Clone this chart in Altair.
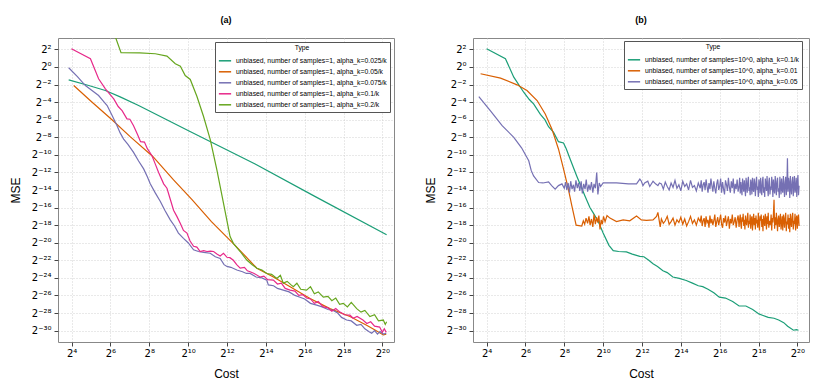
import altair as alt
import pandas as pd

# ---------------- data (log2 of Cost, log2 of MSE) ----------------
A_NAMES = [
    "unbiased, number of samples=1, alpha_k=0.025/k",
    "unbiased, number of samples=1, alpha_k=0.05/k",
    "unbiased, number of samples=1, alpha_k=0.075/k",
    "unbiased, number of samples=1, alpha_k=0.1/k",
    "unbiased, number of samples=1, alpha_k=0.2/k",
]
B_NAMES = [
    "unbiased, number of samples=10^0, alpha_k=0.1/k",
    "unbiased, number of samples=10^0, alpha_k=0.01",
    "unbiased, number of samples=10^0, alpha_k=0.05",
]
A_COLORS = ["#1B9E77", "#D95F02", "#7570B3", "#E7298A", "#66A61E"]
B_COLORS = ["#1B9E77", "#D95F02", "#7570B3"]

a_teal_x = [3.85, 4.88, 5.74, 6.5, 7.45, 10.02, 13.45, 16.5, 20.22]
a_teal_y = [-1.46, -2.11, -2.68, -3.4, -4.39, -7.25, -11.05, -14.7, -19.1]

a_orange_x = [4.11, 5.0, 6.08, 7.0, 8.18, 9.25, 10.2, 11.2, 12.25, 12.85, 13.54, 14.39,
              15.25, 16.28, 17.3, 18.33, 19.19, 19.6, 20.05, 20.2]
a_orange_y = [-2.11, -3.9, -6.0, -7.9, -10.18, -12.85, -15.1, -17.6, -19.94, -21.3, -22.9, -23.9,
              -25.0, -26.35, -27.5, -28.4, -29.4, -29.9, -30.5, -30.4]

a_purple_x = [3.85, 4.3, 4.71, 5.0, 5.39, 5.6, 5.83, 6.08, 6.34, 6.5, 6.68, 6.9, 7.19, 7.45, 7.71,
              7.9, 8.05, 8.3, 8.57, 8.8, 9.08, 9.3, 9.5, 9.76, 10.0, 10.28, 10.53, 10.8, 11.14, 11.4,
              11.65, 11.85, 12.0, 12.2, 12.51, 12.8, 13.0, 13.19, 13.5, 13.8, 14.05, 14.13, 14.4,
              14.6, 14.9, 15.2, 15.5, 15.76, 16.0, 16.3, 16.62, 16.9, 17.2, 17.47, 17.7, 17.9, 18.16,
              18.4, 18.68, 18.9, 19.1, 19.3, 19.45, 19.6, 19.75, 19.88, 20.05, 20.2]
a_purple_y = [-0.09, -1.1, -2.11, -2.6, -3.25, -3.8, -4.39, -5.5, -6.68, -7.5, -8.2, -8.8, -9.72,
              -10.7, -11.6, -12.5, -13.3, -14.3, -15.3, -16.3, -17.4, -18.1, -18.9, -19.5, -20.0,
              -20.8, -21.0, -21.1, -21.2, -21.6, -21.8, -22.5, -22.7, -22.8, -23.1, -23.3, -23.5,
              -23.5, -23.9, -24.0, -24.26, -24.8, -24.9, -25.2, -25.4, -25.6, -26.0, -26.2, -26.4,
              -26.9, -27.1, -27.3, -27.6, -27.7, -28.0, -28.5, -28.8, -28.9, -29.4, -29.3, -29.8,
              -30.1, -30.3, -30.0, -30.4, -30.1, -30.4, -30.3]

a_pink_x = [3.99, 4.97, 5.39, 5.74, 6.17, 6.4, 6.6, 6.85, 7.0, 7.19, 7.4, 7.55, 7.75, 7.9, 8.14,
            8.3, 8.48, 8.74, 8.91, 9.1, 9.25, 9.42, 9.6, 9.76, 9.94, 10.1, 10.28, 10.45, 10.62,
            10.8, 10.97, 11.15, 11.31, 11.5, 11.65, 11.82, 12.0, 12.15, 12.33, 12.5, 12.68, 12.9,
            13.05, 13.19, 13.4, 13.7, 13.9, 14.1, 14.39, 14.6, 14.8, 15.0, 15.25, 15.5, 15.7, 15.9,
            16.1, 16.3, 16.5, 16.7, 16.96, 17.2, 17.4, 17.6, 17.82, 18.05, 18.33, 18.5, 18.7, 19.0,
            19.2, 19.4, 19.6, 19.86, 20.0, 20.1, 20.2]
a_pink_y = [2.08, 0.94, -1.34, -2.49, -3.63, -4.5, -4.96, -5.9, -5.95, -6.68, -7.7, -8.5, -8.55,
            -9.3, -10.1, -11.0, -12.0, -13.3, -13.8, -15.2, -16.3, -17.0, -17.8, -18.6, -18.9,
            -19.8, -20.4, -20.5, -21.0, -20.9, -21.0, -20.95, -21.0, -21.3, -21.5, -21.2, -21.66,
            -21.7, -22.0, -22.5, -22.9, -22.8, -23.2, -23.3, -23.5, -23.9, -23.8, -24.2, -24.26,
            -24.7, -24.6, -25.2, -25.4, -25.5, -26.0, -25.9, -26.3, -26.4, -26.9, -26.7, -27.3,
            -27.4, -27.8, -27.5, -27.9, -28.2, -28.25, -28.6, -28.4, -28.8, -29.2, -29.0, -29.5,
            -29.6, -30.2, -29.8, -30.2]

a_green_x = [6.0, 6.545, 7.5, 8.31, 8.91, 9.34, 9.6, 9.85, 10.11, 10.45, 10.79, 11.14, 11.48,
             11.82, 12.16, 12.33, 12.68, 13.02, 13.3, 13.54, 13.8, 14.05, 14.3, 14.57, 14.75, 14.9,
             15.1, 15.3, 15.42, 15.6, 15.8, 16.1, 16.3, 16.5, 16.7, 16.96, 17.2, 17.4, 17.6, 17.8,
             17.99, 18.2, 18.4, 18.68, 18.9, 19.1, 19.36, 19.6, 19.8, 20.05, 20.15, 20.22]
a_green_y = [5.0, 1.62, 1.6, 1.51, 1.24, 0.37, 0.09, -0.97, -1.42, -3.33, -5.61, -8.27, -11.7,
             -15.5, -19.3, -20.07, -21.0, -21.97, -22.5, -22.9, -23.1, -23.5, -23.6, -24.06, -23.7,
             -24.6, -24.4, -24.8, -25.0, -24.6, -25.3, -25.4, -25.0, -25.8, -25.6, -26.2, -26.1,
             -26.6, -26.3, -27.0, -26.9, -27.3, -26.8, -27.5, -27.9, -27.7, -28.4, -28.2, -28.9,
             -28.8, -29.3, -29.0]

b_teal_x = [4.0, 4.97, 5.4, 5.91, 6.2, 6.42, 6.77, 7.0, 7.19, 7.45, 7.7, 7.96, 8.1, 8.3, 8.64,
            9.07, 9.32, 9.49, 9.75, 10.0, 10.3, 10.52, 10.8, 11.2, 11.5, 11.89, 12.1, 12.35, 12.57,
            12.8, 13.08, 13.3, 13.59, 13.92, 14.28, 14.6, 14.9, 15.13, 15.4, 15.7, 15.98, 16.3,
            16.67, 17.0, 17.35, 17.7, 18.02, 18.2, 18.5, 18.8, 19.04, 19.3, 19.5, 19.8, 19.95, 20.06]
b_teal_y = [2.08, 0.94, -1.16, -2.87, -3.7, -4.2, -5.4, -6.0, -6.8, -7.44, -8.5, -8.65, -9.3,
            -10.48, -12.4, -14.7, -16.0, -16.6, -17.6, -18.9, -20.3, -20.9, -21.0, -21.05, -21.3,
            -21.55, -21.6, -22.0, -22.4, -22.7, -23.2, -23.4, -23.9, -24.06, -24.3, -24.6, -24.9,
            -25.0, -25.3, -25.7, -26.2, -26.3, -26.7, -27.2, -27.2, -27.6, -28.1, -28.25, -28.5,
            -28.6, -28.8, -29.1, -29.5, -29.96, -29.9, -29.96]

# dense tail cost exponents shared by the two noisy series of panel (b)
b_tail_x = [
    13.0, 13.1, 13.2, 13.3, 13.4, 13.5, 13.6, 13.7, 13.8, 13.9,
    14.0, 14.1, 14.2, 14.3, 14.4, 14.5, 14.6, 14.7, 14.8, 14.9,
    15.0, 15.05, 15.1, 15.15, 15.2, 15.25, 15.3, 15.35, 15.4, 15.45,
    15.5, 15.55, 15.6, 15.65, 15.7, 15.75, 15.8, 15.85, 15.9, 15.95,
    16.0, 16.05, 16.1, 16.15, 16.2, 16.25, 16.3, 16.35, 16.4, 16.45,
    16.5, 16.55, 16.6, 16.65, 16.7, 16.75, 16.8, 16.85, 16.9, 16.95,
    17.0, 17.03, 17.06, 17.09, 17.12, 17.15, 17.18, 17.21, 17.24, 17.27,
    17.3, 17.33, 17.36, 17.39, 17.42, 17.45, 17.48, 17.51, 17.54, 17.57,
    17.6, 17.63, 17.66, 17.69, 17.72, 17.75, 17.78, 17.81, 17.84, 17.87,
    17.9, 17.93, 17.96, 17.99, 18.02, 18.05, 18.08, 18.11, 18.14, 18.17,
    18.2, 18.23, 18.26, 18.29, 18.32, 18.35, 18.38, 18.41, 18.44, 18.47,
    18.5, 18.53, 18.56, 18.59, 18.62, 18.65, 18.68, 18.71, 18.74, 18.77,
    18.8, 18.83, 18.86, 18.89, 18.92, 18.95, 18.98, 19.01, 19.04, 19.07,
    19.1, 19.13, 19.16, 19.19, 19.22, 19.25, 19.28, 19.31, 19.34, 19.37,
    19.4, 19.43, 19.46, 19.49, 19.52, 19.55, 19.58, 19.61, 19.64, 19.67,
    19.7, 19.73, 19.76, 19.79, 19.82, 19.85, 19.88, 19.91, 19.94, 19.97,
    20.0, 20.03, 20.06, 20.09,
]

b_orange_head_x = [3.69, 4.72, 5.57, 6.08, 6.6, 7.02, 7.36, 7.7, 7.96, 8.21, 8.39, 8.61, 8.9,
                   8.98, 9.05, 9.12, 9.2, 9.27, 9.33, 9.4, 9.47, 9.53, 9.6, 9.66, 9.72, 9.78, 9.84,
                   9.9, 9.96, 10.02, 10.1, 10.2, 10.35, 10.69, 11.03, 11.37, 11.72, 11.97, 12.23,
                   12.57, 12.75, 12.82, 12.94]
b_orange_head_y = [-0.77, -1.27, -2.03, -2.68, -3.82, -5.34, -7.05, -9.33, -11.6, -13.9, -15.8,
                   -18.0, -18.1, -17.5, -17.9, -17.2, -17.8, -17.0, -18.0, -17.3, -18.2, -16.8,
                   -17.9, -17.1, -17.7, -16.9, -18.5, -17.4, -17.9, -17.0, -17.6, -16.9, -17.2,
                   -17.6, -17.4, -17.5, -16.95, -17.4, -17.45, -17.4, -17.0, -16.55, -18.2]
b_orange_tail_y = [
    -17.3, -17.8, -17.5, -17.0, -17.9, -17.6, -17.2, -18.0, -17.4, -17.7,
    -17.1, -17.9, -17.3, -18.1, -17.6, -17.0, -17.8, -17.4, -18.0, -17.2,
    -17.6, -16.9, -18.1, -17.5, -17.2, -18.2, -17.0, -17.7, -17.4, -18.3,
    -16.9, -17.8, -17.3, -18.0, -17.5, -16.8, -18.2, -17.6, -17.1, -18.0,
    -17.4, -16.8, -17.9, -18.3, -17.2, -17.7, -16.9, -18.1, -17.5, -17.0,
    -18.4, -17.3, -17.8, -16.8, -18.0, -17.6, -17.1, -18.3, -17.4, -16.9,
    -18.2, -17.3, -16.8, -17.9, -18.4, -17.1, -17.6, -16.7, -18.1, -17.4,
    -18.5, -16.9, -17.7, -18.0, -17.2, -16.6, -18.3, -17.5, -17.9, -16.8,
    -18.4, -17.3, -17.0, -18.6, -17.6, -16.7, -18.0, -17.2, -18.5, -16.9,
    -17.8, -17.4, -18.3, -16.6, -17.7, -18.6, -17.0, -17.5, -16.8, -18.2,
    -17.3, -18.7, -16.9, -17.6, -18.1, -16.7, -17.4, -18.5, -17.0, -17.9,
    -16.6, -18.3, -17.5, -18.0, -17.8, -16.8, -18.6, -17.2, -17.7, -16.7,
    -15.1, -18.4, -17.1, -18.0, -16.6, -17.6, -18.7, -17.3, -16.9, -18.2,
    -17.5, -16.7, -18.5, -17.8, -17.0, -18.6, -16.8, -17.4, -18.3, -17.1,
    -16.6, -18.7, -17.6, -17.9, -16.8, -18.4, -17.2, -18.8, -16.7, -17.7,
    -18.2, -17.0, -16.6, -18.5, -17.5, -17.9, -16.7, -18.6, -17.3, -16.9,
    -18.4, -17.2, -16.8, -18.1,
]

b_purple_head_x = [3.6, 4.2, 4.8, 5.4, 5.8, 6.17, 6.3, 6.42, 6.68, 6.9, 7.19, 7.35, 7.53, 7.7,
                   7.88, 8.0, 8.07, 8.13, 8.2, 8.27, 8.33, 8.4, 8.47, 8.53, 8.6, 8.67, 8.73, 8.8,
                   8.87, 8.93, 9.0, 9.07, 9.13, 9.2, 9.27, 9.33, 9.4, 9.47, 9.53, 9.6, 9.67, 9.73,
                   9.8, 9.87, 10.0, 10.35, 10.69, 11.0, 11.3, 11.6, 11.72, 11.89, 11.97, 12.05,
                   12.14, 12.3, 12.4, 12.57, 12.7, 12.82, 12.9]
b_purple_head_y = [-3.37, -5.0, -6.68, -8.0, -9.2, -10.67, -11.8, -12.4, -13.15, -13.2, -13.07,
                   -13.5, -13.9, -13.5, -13.3, -13.8, -13.1, -14.0, -13.2, -14.3, -13.0, -13.9,
                   -13.4, -14.2, -12.9, -13.8, -13.2, -14.1, -13.0, -14.4, -13.3, -13.9, -12.8,
                   -14.2, -13.4, -14.0, -13.1, -14.3, -13.3, -13.8, -12.0, -14.5, -13.2, -13.6,
                   -13.2, -13.2, -13.2, -13.25, -13.3, -13.3, -13.3, -12.76, -13.0, -13.5, -13.2,
                   -13.0, -13.6, -13.0, -13.3, -13.5, -13.2]
b_purple_tail_y = [
    -13.3, -13.9, -13.1, -13.6, -14.0, -13.2, -13.7, -12.9, -13.8, -13.4,
    -14.1, -13.0, -13.6, -13.3, -14.0, -12.9, -13.7, -13.5, -14.1, -13.2,
    -13.8, -12.9, -14.2, -13.4, -13.1, -14.0, -12.8, -13.6, -14.3, -13.2,
    -13.9, -12.7, -13.5, -14.2, -13.0, -13.8, -14.4, -13.3, -12.8, -14.0,
    -13.6, -12.7, -14.3, -13.1, -13.9, -14.5, -12.9, -13.4, -14.1, -12.6,
    -13.7, -14.3, -13.0, -13.8, -12.7, -14.4, -13.3, -13.9, -12.8, -14.2,
    -13.5, -12.6, -14.4, -13.1, -13.9, -14.6, -12.7, -13.6, -14.2, -12.9,
    -13.8, -14.7, -12.6, -13.4, -14.3, -13.0, -12.5, -14.1, -13.7, -14.6,
    -12.8, -13.3, -14.5, -12.6, -13.9, -14.2, -12.7, -13.5, -14.7, -13.1,
    -12.5, -14.0, -13.6, -14.8, -12.8, -13.2, -14.4, -12.6, -13.9, -14.6,
    -13.0, -12.5, -14.3, -13.7, -14.8, -12.7, -13.4, -14.1, -12.4, -13.8,
    -14.7, -13.1, -12.6, -14.5, -13.6, -14.0, -12.5, -13.3, -14.8, -12.8,
    -13.9, -14.4, -12.4, -13.5, -14.6, -13.0, -12.6, -14.2, -13.8, -14.9,
    -12.5, -13.4, -14.5, -12.7, -13.9, -14.3, -12.4, -13.6, -14.8, -13.1,
    -12.5, -14.6, -13.7, -10.4, -14.2, -12.6, -13.3, -14.9, -12.4, -13.8,
    -14.5, -13.0, -12.5, -14.7, -13.6, -12.4, -14.3, -13.9, -12.6, -14.8,
    -13.2, -12.3, -14.6, -13.5,
]

X_TICK_EXP = [4, 6, 8, 10, 12, 14, 16, 18, 20]
Y_TICK_EXP = [2, 0, -2, -4, -6, -8, -10, -12, -14, -16, -18, -20, -22, -24, -26, -28, -30]
X_DOMAIN_EXP = [3.3, 20.6]
Y_DOMAIN_EXP = [-31.3, 3.3]

# ---------------- helpers ----------------
SUP = dict(zip("0123456789-", "⁰¹²³⁴⁵⁶⁷⁸⁹⁻"))


def pow_label(k):
    return "2" + "".join(SUP[c] for c in str(k))


def label_expr(exps):
    e = "round(log(datum.value)/LN2)"
    expr = "''"
    for k in reversed(exps):
        expr = f"({e} == {k} ? '{pow_label(k)}' : {expr})"
    return expr


def build_df(names, xs_list, ys_list):
    rows = []
    for name, xs, ys in zip(names, xs_list, ys_list):
        for i, (x, y) in enumerate(zip(xs, ys)):
            rows.append({"Type": name, "Cost": 2.0 ** x, "MSE": 2.0 ** y, "idx": i})
    return pd.DataFrame(rows)


df_a = build_df(
    A_NAMES,
    [a_teal_x, a_orange_x, a_purple_x, a_pink_x, a_green_x],
    [a_teal_y, a_orange_y, a_purple_y, a_pink_y, a_green_y],
)
df_b = build_df(
    B_NAMES,
    [b_teal_x, b_orange_head_x + b_tail_x, b_purple_head_x + b_tail_x],
    [b_teal_y, b_orange_head_y + b_orange_tail_y, b_purple_head_y + b_purple_tail_y],
)

FONT = "Liberation Sans"
TICK_FONT = "DejaVu Sans"


def panel(df, names, colors, title, lx, ly):
    common = dict(
        grid=True, domain=False, tickSize=4, tickColor="#444",
        labelFont=TICK_FONT, labelFontSize=10, titleFontSize=12, titleFontWeight="normal",
        labelColor="#000", titleColor="#000",
        gridDash=[1, 2], gridColor="#c8c8c8", gridWidth=0.8, labelFlush=False,
    )
    x_axis = alt.Axis(
        values=[2.0 ** k for k in X_TICK_EXP], labelExpr=label_expr(X_TICK_EXP),
        title="Cost", labelPadding=2, titlePadding=10, **common,
    )
    y_axis = alt.Axis(
        values=[2.0 ** k for k in Y_TICK_EXP], labelExpr=label_expr(Y_TICK_EXP),
        title="MSE", labelPadding=3, titlePadding=9, **common,
    )
    legend = alt.Legend(
        orient="none", legendX=lx, legendY=ly, title="Type",
        titleFontSize=6.8, labelFontSize=6.8, titleFontWeight="normal", titleAnchor="middle",
        titleColor="#000", labelColor="#000", titlePadding=2,
        fillColor="white", strokeColor="#555", padding=3, cornerRadius=0,
        symbolType="stroke", symbolSize=150, symbolStrokeWidth=1.5, rowPadding=-2,
        labelLimit=400, labelOffset=4,
    )
    return (
        alt.Chart(df, title=alt.TitleParams(title, fontSize=9, fontWeight="bold",
                                             anchor="middle", offset=13, color="#000"))
        .mark_line(strokeWidth=1.2, clip=True)
        .encode(
            x=alt.X("Cost:Q", axis=x_axis,
                    scale=alt.Scale(type="log", base=2, nice=False,
                                    domain=[2.0 ** v for v in X_DOMAIN_EXP])),
            y=alt.Y("MSE:Q", axis=y_axis,
                    scale=alt.Scale(type="log", base=2, nice=False,
                                    domain=[2.0 ** v for v in Y_DOMAIN_EXP])),
            color=alt.Color("Type:N", scale=alt.Scale(domain=names, range=colors), legend=legend),
            order=alt.Order("idx:Q"),
        )
        .properties(width=336, height=304)
    )


chart_a = panel(df_a, A_NAMES, A_COLORS, "(a)", 157, 4)
chart_b = panel(df_b, B_NAMES, B_COLORS, "(b)", 151, 3)

chart = (
    alt.hconcat(chart_a, chart_b, spacing=28)
    .resolve_scale(color="independent")
    .resolve_legend(color="independent")
    .properties(padding={"left": 0, "top": 7, "right": 0, "bottom": 0})
    .configure(font=FONT)
    .configure_view(stroke="#888", strokeWidth=1)
)

chart.save("out.html", embed_options={"renderer": "svg", "actions": False})
